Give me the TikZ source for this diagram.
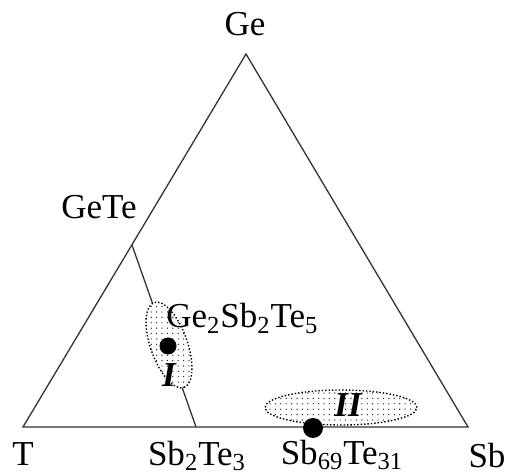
\documentclass[tikz,border=0pt]{standalone}
\usepackage{fontspec}
\setmainfont{Liberation Serif}
\usetikzlibrary{shapes.geometric,patterns.meta}
\newcommand{\tdZoneDots}{black!85}
\tikzset{
  tdedge/.style={draw=black!80, line width=0.65pt},
  tdzone/.style={ellipse, draw=black, densely dotted, line width=0.7pt, inner sep=0pt,
                 preaction={fill=white}, pattern={Dots[distance=2.7pt,radius=0.35pt]},
                 pattern color=\tdZoneDots},
  tdspot/.style={circle, fill=black, minimum size=9pt, inner sep=0pt},
  tdlab/.style={font=\fontsize{17.5}{20}\selectfont, inner sep=0pt},
  tdzonelab/.style={font=\fontsize{17.5}{20}\selectfont\bfseries\itshape, inner sep=0pt},
}

\begin{document}
\begin{tikzpicture}[x=0.5pt,y=-0.5pt]
  \useasboundingbox (0,0) rectangle (507,474);
  \coordinate (Ge) at (246,54);
  \coordinate (T) at (23,427);
  \coordinate (Sb) at (468,427);
  \coordinate (GeTe) at (132,245);
  \coordinate (SbTe) at (196,427);
  \draw[tdedge] (T) -- (Ge) -- (Sb) -- cycle;
  \draw[tdedge] (GeTe) -- (SbTe);
  \node[tdzone, minimum width=45pt, minimum height=18.5pt, rotate=-70.6] (zoneI) at (169,345) {};
  \node[tdzone, minimum width=76pt, minimum height=17.5pt] (zoneII) at (341,407.5) {};
  \node[tdspot, minimum size=8.5pt] (GST) at (168,346) {};
  \node[tdspot, minimum size=10pt] (SbTeMix) at (313,428) {};
  \node[tdlab, anchor=base] (GeLab) at (245,36) {Ge};
  \node[tdlab, anchor=base west] (GeTeLab) at (61,219) {GeTe};
  \node[tdlab, anchor=base] (TLab) at (23,465) {T};
  \node[tdlab, anchor=base] (SbTeLab) at (197,465) {Sb\textsubscript{2}Te\textsubscript{3}};
  \node[tdlab, anchor=base] (SbTeMixLab) at (342,464) {Sb\textsubscript{69}Te\textsubscript{31}};
  \node[tdlab, anchor=base] (SbLab) at (487,467) {Sb};
  \node[tdlab, anchor=base west] (GSTLab) at (166,328) {Ge\textsubscript{2}Sb\textsubscript{2}Te\textsubscript{5}};
  \node[tdzonelab] (zoneILab) at (169,375) {I};
  \node[tdzonelab] (zoneIILab) at (348,405) {II};
\end{tikzpicture}
\end{document}
